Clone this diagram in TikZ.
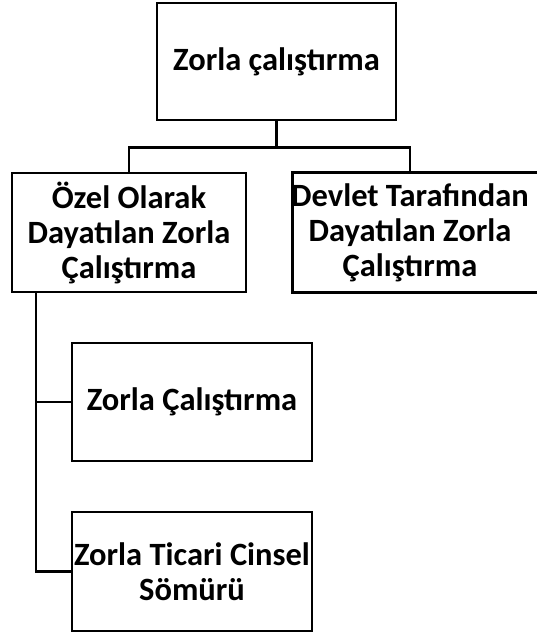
\documentclass[tikz,border=0pt]{standalone}
\usepackage{fontspec}
\setmainfont{Carlito}
\usetikzlibrary{fit}
\begin{document}
\begin{tikzpicture}[x=1pt,y=-1pt,
  box/.style={draw, line width=2.8pt, inner sep=0pt, align=center,
    font=\fontsize{32.5}{35}\selectfont\bfseries},
  txt/.style={align=center, inner sep=0pt, font=\fontsize{32.5}{35}\selectfont\bfseries},
  conn/.style={line width=2.8pt}]
\useasboundingbox (0,0) rectangle (537,635);
\node[box, minimum width=239pt, minimum height=117pt] (top) at (276.5,61.5) {Zorla çalıştırma};
\node[box, minimum width=234pt, minimum height=119pt] (left) at (129,232.5) {Özel Olarak\\Dayatılan Zorla\\Çalıştırma};
\node[fit={(293,173) (537,292)}, inner sep=0pt] (right) {};
\draw[conn] (right.north east) -| (right.south west) -- (right.south east);
\node[txt] (rtext) at (410,232.5) {Devlet Tarafından\\Dayatılan Zorla\\Çalıştırma};
\node[box, minimum width=240pt, minimum height=118pt] (b3) at (192,402) {Zorla Çalıştırma};
\node[box, minimum width=240pt, minimum height=119pt] (b4) at (192,571.5) {Zorla Ticari Cinsel\\Sömürü};
\draw[conn] (top.south) -- ++(0,26) -| (left.north);
\draw[conn] (top.south) ++(0,26) -| (rtext |- right.north);
\coordinate (t0) at (36,292);
\draw[conn] (t0) |- (b3.west);
\draw[conn] (t0) |- (b4.west);
\end{tikzpicture}
\end{document}
